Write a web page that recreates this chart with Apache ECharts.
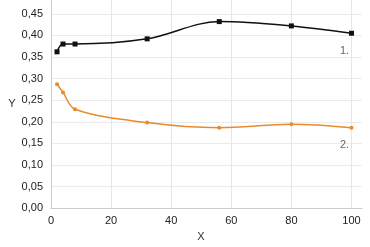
<!DOCTYPE html>
<html><head><meta charset="utf-8">
<script src="https://cdn.jsdelivr.net/npm/echarts@6/dist/echarts.min.js"></script>
<style>html,body{margin:0;padding:0;background:#fff}#c{width:370px;height:247px}</style>
</head><body><div id="c"></div>
<script>
const xValues = [2, 4, 8, 32, 56, 80, 100];
const series1 = [0.362, 0.380, 0.380, 0.392, 0.432, 0.422, 0.405];
const series2 = [0.287, 0.268, 0.229, 0.198, 0.186, 0.194, 0.186];
const seriesNames = ['1.', '2.'];
const xTicks = [0, 20, 40, 60, 80, 100];
const yTicks = [0, 0.05, 0.10, 0.15, 0.20, 0.25, 0.30, 0.35, 0.40, 0.45];

const chart = echarts.init(document.getElementById('c'));
const fmt = v => v.toFixed(2).replace('.', ',');
function mk(name, vals, color, symbol, size) {
  return {
    name, type: 'line', smooth: 0.35,
    data: xValues.map((x, i) => [x, vals[i]]),
    symbol, symbolSize: size, showSymbol: true,
    itemStyle: {color}, lineStyle: {color, width: 1.5},
    label: {
      show: true, position: 'bottom', distance: 10, offset: [-7, 0],
      color: '#666', fontSize: 11, fontFamily: 'Liberation Sans',
      formatter: p => p.dataIndex === xValues.length - 1 ? name : ''
    },
    animation: false
  };
}
chart.setOption({
  animation: false,
  grid: {left: 51, right: 8, top: 0, bottom: 31, containLabel: false},
  xAxis: {
    type: 'value', min: 0, max: 103.5, name: 'X', nameLocation: 'middle', nameGap: 19,
    nameTextStyle: {color: '#333', fontSize: 11, fontFamily: 'Liberation Sans', padding: [0, 11, 0, 0]},
    axisLine: {show: true, lineStyle: {color: '#ccc'}},
    axisTick: {show: false, customValues: xTicks},
    axisLabel: {customValues: xTicks, color: '#222', fontSize: 11, fontFamily: 'Liberation Sans', margin: 7},
    splitLine: {show: true, lineStyle: {color: '#e6e6e6'}}
  },
  yAxis: {
    type: 'value', min: 0, max: 0.482, name: 'Y', nameLocation: 'middle', nameGap: 33, nameRotate: 0,
    nameTextStyle: {color: '#333', fontSize: 11, fontFamily: 'Liberation Sans', padding: [0, 0, 8, 0]},
    axisLine: {show: true, lineStyle: {color: '#ccc'}},
    axisTick: {show: false, customValues: yTicks},
    axisLabel: {customValues: yTicks, formatter: fmt, color: '#222', fontSize: 11, fontFamily: 'Liberation Sans', margin: 8},
    splitLine: {show: true, lineStyle: {color: '#ebebeb'}}
  },
  series: [
    mk(seriesNames[0], series1, '#111', 'rect', 5),
    mk(seriesNames[1], series2, '#e88a2e', 'circle', 4)
  ]
});
</script></body></html>
